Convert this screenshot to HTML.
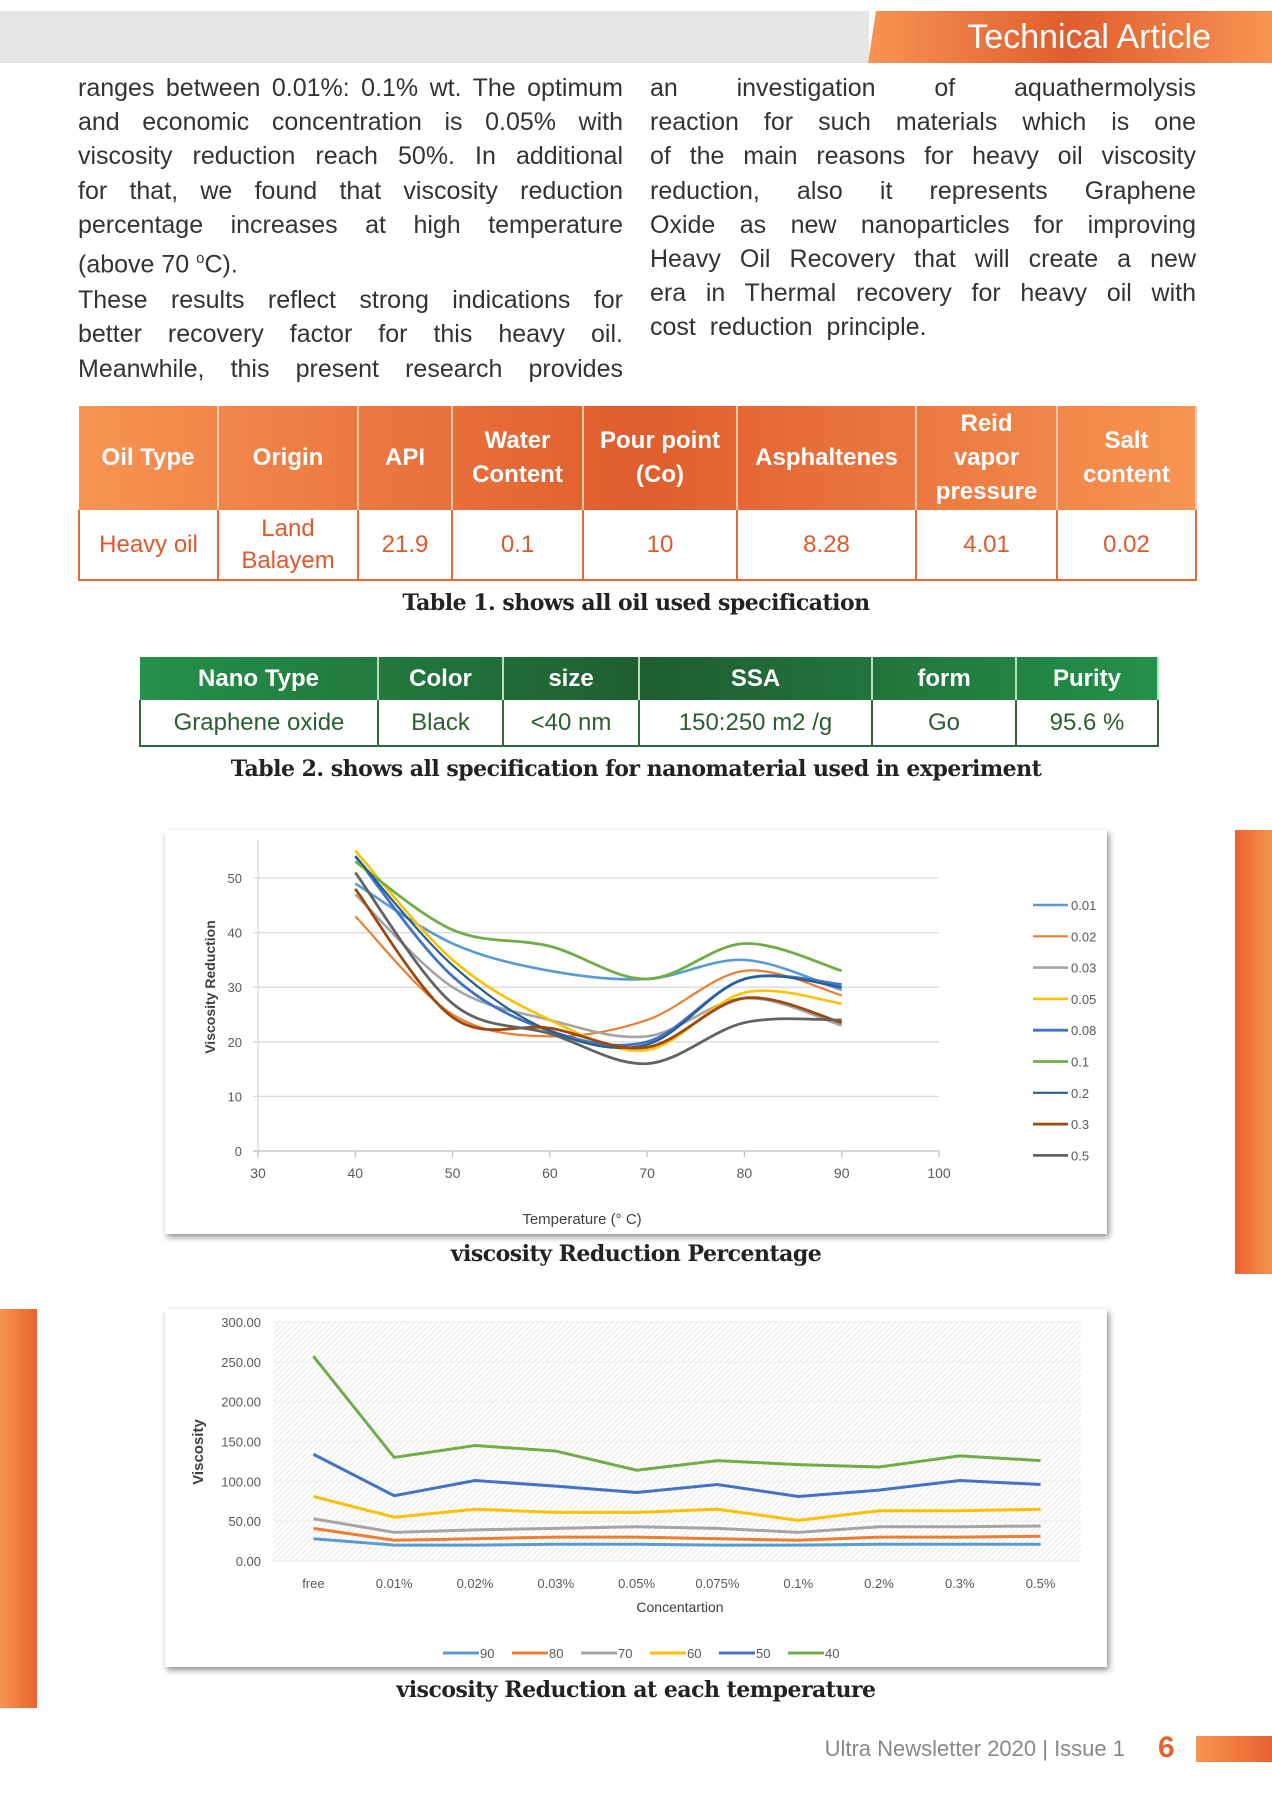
<!DOCTYPE html>
<html><head><meta charset="utf-8">
<style>
*{margin:0;padding:0;box-sizing:border-box}
body{width:1272px;height:1800px;background:#fff;position:relative;overflow:hidden;font-family:"Liberation Sans",sans-serif}
.abs{position:absolute}
.col{position:absolute;font-size:25px;color:#333;line-height:34.2px}
.col div{text-align:justify;text-align-last:justify;white-space:nowrap;height:34.2px}
.col div.l{text-align-last:left}
table{border-collapse:collapse;position:absolute;table-layout:fixed}
td{text-align:center;vertical-align:middle}
.t1 th{color:#fff;font-weight:bold;font-size:24px;line-height:34px;border-right:2px solid #f9c9a8;padding:0}
.t1 td{color:#e0582b;font-size:24px;line-height:32px;border:2px solid #e8683a;border-top:none}
.t2 th{color:#fff;font-weight:bold;font-size:24px;border-right:2px solid #b8dcc4;padding:0}
.t2 td{color:#2b5e32;font-size:24px;border:2px solid #2c6b3a;border-top:none}
.cap{position:absolute;left:0;width:1272px;text-align:center;font-family:"DejaVu Serif","Liberation Serif",serif;font-weight:bold;font-size:22px;color:#222;letter-spacing:-0.5px}
.box{position:absolute;background:#fff;box-shadow:2px 3px 6px rgba(0,0,0,.45)}
</style></head><body>
<div class="abs" style="left:0;top:11px;width:869px;height:52px;background:#e6e6e6"></div>
<div class="abs" style="left:868px;top:11px;width:404px;height:52px;background:linear-gradient(90deg,#f89453,#e05d2e 50%,#f89453);clip-path:polygon(8px 0,100% 0,100% 100%,0 100%)"></div>
<div class="abs" style="left:880px;top:16px;width:331px;text-align:right;color:#fff;font-size:34px;line-height:42px">Technical Article</div>

<div class="col" style="left:78px;top:71px;width:545px">
<div>ranges between 0.01%: 0.1% wt. The optimum</div>
<div>and economic concentration is 0.05% with</div>
<div>viscosity reduction reach 50%. In additional</div>
<div>for that, we found that viscosity reduction</div>
<div>percentage increases at high temperature</div>
<div class="l">(above 70 <sup style="font-size:15px">o</sup>C).</div>
<div style="margin-top:7px">These results reflect strong indications for</div>
<div>better recovery factor for this heavy oil.</div>
<div>Meanwhile, this present research provides</div>
</div>
<div class="col" style="left:650px;top:71px;width:546px">
<div>an investigation of aquathermolysis</div>
<div>reaction for such materials which is one</div>
<div>of the main reasons for heavy oil viscosity</div>
<div>reduction, also it represents Graphene</div>
<div>Oxide as new nanoparticles for improving</div>
<div>Heavy Oil Recovery that will create a new</div>
<div>era in Thermal recovery for heavy oil with</div>
<div class="l">cost&nbsp; reduction&nbsp; principle.</div>
</div>

<table class="t1" style="left:78px;top:406px;width:1117px">
<colgroup><col style="width:139px"><col style="width:140px"><col style="width:94px"><col style="width:131px"><col style="width:154px"><col style="width:179px"><col style="width:141px"><col style="width:139px"></colgroup>
<tr style="height:104px;background:linear-gradient(90deg,#f89453,#e05d2e 50%,#f89453)"><th>Oil Type</th><th>Origin</th><th>API</th><th>Water<br>Content</th><th>Pour point<br>(Co)</th><th>Asphaltenes</th><th>Reid<br>vapor<br>pressure</th><th>Salt<br>content</th></tr>
<tr style="height:70px"><td>Heavy oil</td><td>Land<br>Balayem</td><td>21.9</td><td>0.1</td><td>10</td><td>8.28</td><td>4.01</td><td>0.02</td></tr>
</table>
<div class="cap" style="top:590px">Table 1. shows all oil used specification</div>

<table class="t2" style="left:139px;top:657px;width:1018px">
<colgroup><col style="width:238px"><col style="width:125px"><col style="width:136px"><col style="width:233px"><col style="width:144px"><col style="width:142px"></colgroup>
<tr style="height:43px;background:linear-gradient(90deg,#24914a,#1f5e30 50%,#24914a)"><th>Nano Type</th><th>Color</th><th>size</th><th>SSA</th><th>form</th><th>Purity</th></tr>
<tr style="height:46px"><td>Graphene oxide</td><td>Black</td><td>&lt;40 nm</td><td>150:250 m2 /g</td><td>Go</td><td>95.6 %</td></tr>
</table>
<div class="cap" style="top:756px">Table 2. shows all specification for nanomaterial used in experiment</div>

<div class="abs" style="left:1235px;top:830px;width:37px;height:444px;background:linear-gradient(90deg,#e8622f,#f89453)"></div>
<div class="abs" style="left:0;top:1309px;width:37px;height:399px;background:linear-gradient(90deg,#f89453,#e8622f)"></div>

<div class="box" style="left:165px;top:830px;width:942px;height:404px"></div>
<svg id="c1" class="abs" style="left:0;top:0" width="1272" height="1800"></svg>
<div class="cap" style="top:1241px">viscosity Reduction Percentage</div>

<div class="box" style="left:165px;top:1309px;width:942px;height:358px"></div>
<svg id="c2" class="abs" style="left:0;top:0" width="1272" height="1800"></svg>
<div class="cap" style="top:1677px">viscosity Reduction at each temperature</div>

<div class="abs" style="left:760px;top:1736px;width:365px;text-align:right;color:#888;font-size:22px">Ultra Newsletter 2020 | Issue 1</div>
<div class="abs" style="left:1158px;top:1731px;color:#e8622f;font-size:30px;font-weight:bold">6</div>
<div class="abs" style="left:1196px;top:1736px;width:76px;height:26px;background:linear-gradient(90deg,#f89453,#e8622f)"></div>

<script>
// ---- Chart 1 data ----
const temps=[40,50,60,70,80,90];
const seriesNames1=["0.01","0.02","0.03","0.05","0.08","0.1","0.2","0.3","0.5"];
const s001=[49,38,33,31.5,35,29.5];
const s002=[43,25,21,24,33,28.5];
const s003=[47,30,24,21,28,23];
const s005=[55,35,24,18.5,29,27];
const s008=[54,32,22,20,31.5,30.5];
const s01=[53,40.5,37.5,31.5,38,33];
const s02=[54,34,22,19.5,31.5,30];
const s03=[48,24.5,22.5,19,28,23.5];
const s05=[51,27,21.5,16,23.5,24];
const xTicks1=[30,40,50,60,70,80,90,100];
const yTicks1=[0,10,20,30,40,50];
// ---- Chart 2 data ----
const concs=["free","0.01%","0.02%","0.03%","0.05%","0.075%","0.1%","0.2%","0.3%","0.5%"];
const seriesNames2=["90","80","70","60","50","40"];
const t90=[28,20,20,21,21,20,20,21,21,21];
const t80=[41,26,28,30,30,28,26,30,30,31];
const t70=[53,36,39,41,43,41,36,43,43,44];
const t60=[81,55,65,61,61,65,51,63,63,65];
const t50=[134,82,101,94,86,96,81,89,101,96];
const t40=[257,130,145,138,114,126,121,118,132,126];
const yTicks2=["0.00","50.00","100.00","150.00","200.00","250.00","300.00"];

const NS="http://www.w3.org/2000/svg";
function mk(svg,tag,attrs,txt){const e=document.createElementNS(NS,tag);for(const k in attrs)e.setAttribute(k,attrs[k]);if(txt!==undefined)e.textContent=txt;svg.appendChild(e);return e;}

// Chart 1
(function(){
const svg=document.getElementById('c1');
const x=v=>258+(v-30)*(939-258)/70;
const y=v=>1151-v*(1151-878)/50;
yTicks1.forEach(t=>{
  const g=mk(svg,'line',{x1:x(30)-5,x2:x(100),y1:y(t),y2:y(t),stroke:t===0?'#bfbfbf':'#d9d9d9','stroke-width':1.3});
  
  const l=mk(svg,'text',{x:242,y:y(t)+5,'text-anchor':'end','font-size':13,fill:'#595959','font-family':'Liberation Sans Narrow, Liberation Sans, sans-serif'},t);
  
});
const ax=mk(svg,'line',{x1:x(30),x2:x(30),y1:y(57),y2:y(0),stroke:'#d9d9d9','stroke-width':1.3});

xTicks1.forEach(t=>{
  const k=mk(svg,'line',{x1:x(t),x2:x(t),y1:y(0),y2:y(0)+6,stroke:'#bfbfbf','stroke-width':1.3});
  
  const l=mk(svg,'text',{x:x(t),y:1178,'text-anchor':'middle','font-size':14,fill:'#595959','font-family':'Liberation Sans Narrow, Liberation Sans, sans-serif'},t);
  
});
const xt=mk(svg,'text',{x:582,y:1224,'text-anchor':'middle','font-size':15,fill:'#404040','font-family':'Liberation Sans Narrow, Liberation Sans, sans-serif'},'Temperature (° C)');

const yt=mk(svg,'text',{x:0,y:0,transform:'translate(215,987) rotate(-90)','text-anchor':'middle','font-size':14,'font-weight':'bold',fill:'#404040'},'Viscosity Reduction');

const data=[s001,s002,s003,s005,s008,s01,s02,s03,s05];
const cols=['#5B9BD5','#ED7D31','#A5A5A5','#FFC000','#4472C4','#70AD47','#255E91','#9E480E','#636363'];
const widths=[2.6,2.2,2.6,2.6,2.8,2.8,2.2,2.8,2.8];
data.forEach((s,i)=>{
  const p=temps.map((t,j)=>[x(t),y(s[j])]);
  let d='M'+p[0][0]+','+p[0][1];
  for(let j=0;j<p.length-1;j++){
    const p0=p[Math.max(0,j-1)],p1=p[j],p2=p[j+1],p3=p[Math.min(p.length-1,j+2)];
    const c1x=p1[0]+(p2[0]-p0[0])/6,c1y=p1[1]+(p2[1]-p0[1])/6;
    const c2x=p2[0]-(p3[0]-p1[0])/6,c2y=p2[1]-(p3[1]-p1[1])/6;
    d+=' C'+c1x+','+c1y+' '+c2x+','+c2y+' '+p2[0]+','+p2[1];
  }
  const e=mk(svg,'path',{d:d,fill:'none',stroke:cols[i],'stroke-width':widths[i]});
  
  
  const ly=905+i*31.3;
  const ll=mk(svg,'line',{x1:1033,x2:1068,y1:ly,y2:ly,stroke:cols[i],'stroke-width':widths[i]});
  
  const lt=mk(svg,'text',{x:1071,y:ly+5,'font-size':13,fill:'#595959','font-family':'Liberation Sans Narrow, Liberation Sans, sans-serif'},seriesNames1[i]);
  
});
})();

// Chart 2
(function(){
const svg=document.getElementById('c2');
const L=273,R=1081,T=1322,B=1561;
const bw=(R-L)/concs.length;
const x=i=>L+bw*(i+0.5);
const y=v=>B-v*(B-T)/300;
const defs=mk(svg,'defs',{});
const pat=mk(defs,'pattern',{id:'hatch',width:4,height:4,patternUnits:'userSpaceOnUse',patternTransform:'rotate(45)'});
mk(pat,'line',{x1:0,y1:0,x2:0,y2:4,stroke:'#d9d9d9','stroke-width':1.2});
const bg=mk(svg,'rect',{x:L,y:T,width:R-L,height:B-T,fill:'url(#hatch)'});

yTicks2.forEach(t=>{
  const v=parseFloat(t);
  const g=mk(svg,'line',{x1:L,x2:R,y1:y(v),y2:y(v),stroke:'#f2f2f2','stroke-width':2});
  
  const l=mk(svg,'text',{x:261,y:y(v)+5,'text-anchor':'end','font-size':13,fill:'#595959','font-family':'Liberation Sans Narrow, Liberation Sans, sans-serif'},t);
  
});
concs.forEach((c,i)=>{
  const l=mk(svg,'text',{x:x(i),y:1588,'text-anchor':'middle','font-size':13,fill:'#595959','font-family':'Liberation Sans Narrow, Liberation Sans, sans-serif'},c);
  
});
const xt=mk(svg,'text',{x:680,y:1612,'text-anchor':'middle','font-size':14,fill:'#404040','font-family':'Liberation Sans Narrow, Liberation Sans, sans-serif'},'Concentartion');

const yt=mk(svg,'text',{x:0,y:0,transform:'translate(203,1452) rotate(-90)','text-anchor':'middle','font-size':15,'font-weight':'bold',fill:'#404040'},'Viscosity');

const data=[t90,t80,t70,t60,t50,t40];
const cols=['#5B9BD5','#ED7D31','#A5A5A5','#FFC000','#4472C4','#70AD47'];
data.forEach((s,i)=>{
  const pts=s.map((v,j)=>x(j)+','+y(v)).join(' ');
  const e=mk(svg,'polyline',{points:pts,fill:'none',stroke:cols[i],'stroke-width':3});
  
  
  const lx=443+i*69;
  const ll=mk(svg,'line',{x1:lx,x2:lx+36,y1:1653,y2:1653,stroke:cols[i],'stroke-width':3});
  
  const lt=mk(svg,'text',{x:lx+37,y:1658,'font-size':13,fill:'#595959','font-family':'Liberation Sans Narrow, Liberation Sans, sans-serif'},seriesNames2[i]);
  
});
})();
</script>
</body></html>
